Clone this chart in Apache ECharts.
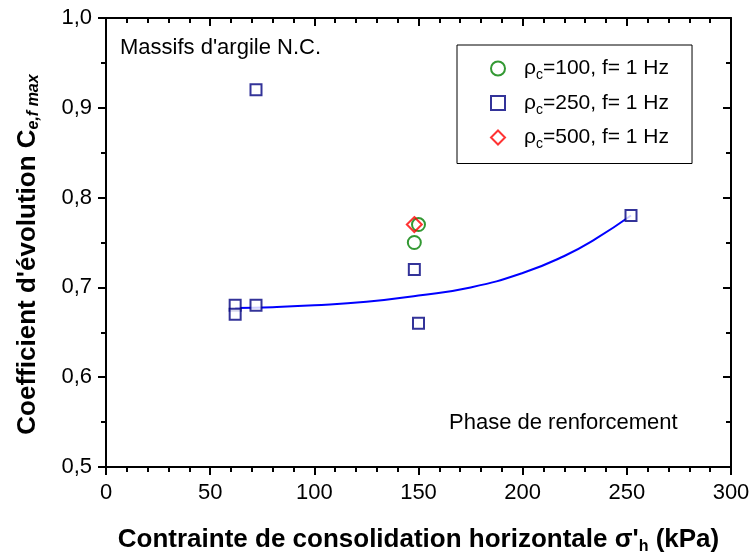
<!DOCTYPE html>
<html>
<head>
<meta charset="utf-8">
<script src="https://cdn.jsdelivr.net/npm/echarts@6/dist/echarts.min.js"></script>
<style>
  html, body { margin: 0; padding: 0; background: #fff; }
  #chart { width: 752px; height: 555px; }
</style>
</head>
<body>
<div id="chart"></div>
<script>
// values
var circleX = [150, 148];
var circleY = [0.77, 0.75];
var squareX = [72, 62, 62, 72, 148, 150, 252];
var squareY = [0.92, 0.68, 0.67, 0.68, 0.72, 0.66, 0.78];
var diamondX = [148];
var diamondY = [0.77];
// fitted curve
var fitX = [62, 80, 100, 125, 150, 175, 200, 220, 235, 252];
var fitY = [0.677, 0.678, 0.680, 0.684, 0.691, 0.700, 0.716, 0.735, 0.754, 0.780];

var legendNames = ["ρ{s|c}=100, f= 1 Hz", "ρ{s|c}=250, f= 1 Hz", "ρ{s|c}=500, f= 1 Hz"];

function pairs(xs, ys) {
  return xs.map(function (x, i) { return [x, ys[i]]; });
}

var font = "Liberation Sans, Arial, sans-serif";
var chart = echarts.init(document.getElementById("chart"));

var commaFmt = function (v) { return v.toFixed(1).replace(".", ","); };

var option = {
  animation: false,
  grid: { left: 106, right: 21, top: 18, bottom: 88, outerBoundsMode: "none" },
  xAxis: [
    {
      type: "value", min: 0, max: 300, interval: 50,
      axisLine: { show: true, lineStyle: { color: "#000", width: 2 } },
      axisTick: { show: true, inside: false, length: 8, lineStyle: { color: "#000", width: 2 } },
      minorTick: { show: true, splitNumber: 5, length: 5, lineStyle: { color: "#000", width: 2 } },
      splitLine: { show: false },
      axisLabel: { color: "#000", fontSize: 22, fontFamily: font, margin: 15 },
      name: "Contrainte de consolidation horizontale σ'{s|h} (kPa)",
      nameLocation: "middle", nameGap: 58,
      nameTextStyle: {
        color: "#000", fontSize: 26, fontWeight: "bold", fontFamily: font,
        rich: { s: { fontSize: 16, fontWeight: "bold", fontFamily: font, padding: [14, 0, 0, 0] } }
      }
    },
    {
      type: "value", position: "top", min: 0, max: 300, interval: 50,
      axisLine: { show: true, onZero: false, lineStyle: { color: "#000", width: 2 } },
      axisTick: { show: true, inside: true, length: 8, lineStyle: { color: "#000", width: 2 } },
      minorTick: { show: true, splitNumber: 5, length: 5, lineStyle: { color: "#000", width: 2 } },
      splitLine: { show: false },
      axisLabel: { show: false }
    }
  ],
  yAxis: [
    {
      type: "value", min: 0.5, max: 1.0, interval: 0.1,
      axisLine: { show: true, lineStyle: { color: "#000", width: 2 } },
      axisTick: { show: true, inside: false, length: 8, lineStyle: { color: "#000", width: 2 } },
      minorTick: { show: true, splitNumber: 2, length: 5, lineStyle: { color: "#000", width: 2 } },
      splitLine: { show: false },
      axisLabel: { color: "#000", fontSize: 22, fontFamily: font, margin: 14, formatter: commaFmt },
      name: "Coefficient d'évolution C{s|e,f max}",
      nameLocation: "middle", nameGap: 64, nameRotate: 90,
      nameTextStyle: {
        color: "#000", fontSize: 26, fontWeight: "bold", fontFamily: font,
        padding: [0, 24, 0, 0],
        rich: { s: { fontSize: 16, fontWeight: "bold", fontStyle: "italic", fontFamily: font, padding: [12, 0, 0, 0] } }
      }
    },
    {
      type: "value", position: "right", min: 0.5, max: 1.0, interval: 0.1,
      axisLine: { show: true, onZero: false, lineStyle: { color: "#000", width: 2 } },
      axisTick: { show: true, inside: true, length: 8, lineStyle: { color: "#000", width: 2 } },
      minorTick: { show: true, splitNumber: 2, length: 5, lineStyle: { color: "#000", width: 2 } },
      splitLine: { show: false },
      axisLabel: { show: false }
    }
  ],
  legend: {
    orient: "vertical",
    left: 457, top: 45,
    padding: [13, 23, 12, 33],
    borderColor: "#000", borderWidth: 1,
    itemWidth: 14, itemHeight: 14, itemGap: 10,
    data: legendNames,
    textStyle: {
      color: "#000", fontSize: 21, fontFamily: font, padding: [0, 0, 0, 14],
      rich: { s: { fontSize: 14, fontFamily: font, padding: [14, 0, 0, 0] } }
    }
  },
  graphic: [
    {
      type: "text", left: 120, top: 37,
      style: { text: "Massifs d'argile N.C.", fontSize: 22, fontFamily: font, fill: "#000" }
    },
    {
      type: "text", left: 449, top: 412,
      style: { text: "Phase de renforcement", fontSize: 22, fontFamily: font, fill: "#000" }
    }
  ],
  series: [
    {
      name: legendNames[0], type: "scatter", data: pairs(circleX, circleY),
      symbol: "circle", symbolSize: 13,
      itemStyle: { color: "#fff", borderColor: "#008000", borderWidth: 2 }
    },
    {
      name: legendNames[1], type: "scatter", data: pairs(squareX, squareY),
      symbol: "rect", symbolSize: 11,
      itemStyle: { color: "#fff", borderColor: "#000080", borderWidth: 2 }
    },
    {
      name: legendNames[2], type: "scatter", data: pairs(diamondX, diamondY),
      symbol: "diamond", symbolSize: 15, z: 3,
      itemStyle: { color: "rgba(255,255,255,0)", borderColor: "#ff0000", borderWidth: 2 }
    },
    {
      name: "fit", type: "line", data: pairs(fitX, fitY),
      smooth: true, showSymbol: false, symbol: "none", z: 1,
      lineStyle: { color: "#0000ff", width: 2 }
    }
  ]
};

chart.setOption(option);
</script>
</body>
</html>
